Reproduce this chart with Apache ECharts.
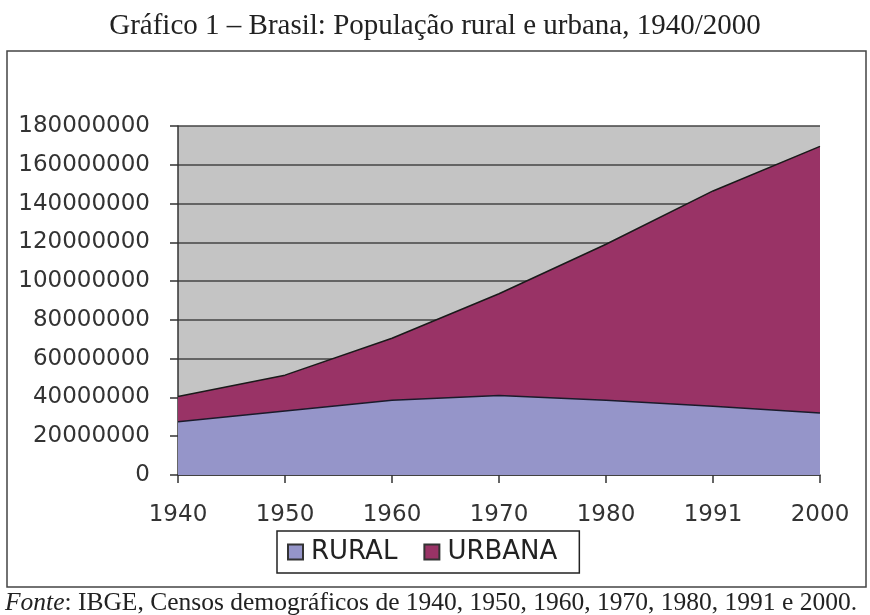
<!DOCTYPE html>
<html>
<head>
<meta charset="utf-8">
<script src="https://cdn.jsdelivr.net/npm/echarts@6/dist/echarts.min.js"></script>
<style>
  html, body { margin: 0; padding: 0; background: #fff; }
  #chart { width: 870px; height: 615px; }
</style>
</head>
<body>
<div id="chart"></div>
<script>
// Census years (category axis, evenly spaced as in the original)
const years = ['1940', '1950', '1960', '1970', '1980', '1991', '2000'];
// Population
const rural = [27500000, 33000000, 38500000, 41000000, 38500000, 35500000, 32000000];
const urbana = [13000000, 18500000, 32000000, 52500000, 80500000, 111000000, 137500000];
const yTicks = [0, 20000000, 40000000, 60000000, 80000000, 100000000, 120000000, 140000000, 160000000, 180000000];

const chart = echarts.init(document.getElementById('chart'));

const serif = '"Liberation Serif", "DejaVu Serif", serif';
const sans = '"DejaVu Sans", "Liberation Sans", sans-serif';

const option = {
  animation: false,
  backgroundColor: '#fff',
  title: {
    text: 'Gráfico 1 – Brasil: População rural e urbana, 1940/2000',
    left: 'center',
    top: 7,
    textStyle: { fontFamily: serif, fontSize: 29, fontWeight: 'normal', color: '#222' }
  },
  graphic: [
    {
      type: 'rect',
      shape: { x: 7, y: 51, width: 859, height: 536 },
      style: { fill: 'none', stroke: '#444', lineWidth: 1.5 },
      z: -1
    },
    {
      type: 'text',
      left: 5,
      top: 590,
      style: {
        text: '{i|Fonte}: IBGE, Censos demográficos de 1940, 1950, 1960, 1970, 1980, 1991 e 2000.',
        fontFamily: serif,
        fontSize: 25.5,
        fill: '#222',
        rich: {
          i: { fontFamily: serif, fontSize: 25.5, fontStyle: 'italic', fill: '#222' }
        }
      }
    }
  ],
  legend: {
    data: ['RURAL', 'URBANA'],
    left: 277,
    top: 531,
    padding: [8, 22, 8, 10],
    itemGap: 26,
    itemWidth: 15,
    itemHeight: 15,
    icon: 'rect',
    borderColor: '#222',
    borderWidth: 1.5,
    textStyle: { fontFamily: sans, fontSize: 26, color: '#222', padding: [0, 0, 0, 3] }
  },
  grid: {
    left: 178,
    right: 50,
    top: 126,
    bottom: 140,
    show: true,
    backgroundColor: '#c4c4c4',
    borderWidth: 0
  },
  xAxis: {
    type: 'category',
    data: years,
    boundaryGap: false,
    axisLine: { lineStyle: { color: '#333', width: 1.5 } },
    axisTick: { show: true, length: 8, alignWithLabel: true, lineStyle: { color: '#333', width: 1.5 } },
    axisLabel: { fontFamily: sans, fontSize: 23, color: '#333', margin: 29 },
    splitLine: { show: false }
  },
  yAxis: {
    type: 'value',
    min: yTicks[0],
    max: yTicks[yTicks.length - 1],
    interval: yTicks[1] - yTicks[0],
    axisLine: { show: true, lineStyle: { color: '#333', width: 1.5 } },
    axisTick: { show: true, length: 8, lineStyle: { color: '#333', width: 1.5 } },
    axisLabel: {
      fontFamily: sans, fontSize: 23, color: '#333', margin: 28,
      formatter: (v) => String(v)
    },
    splitLine: { show: true, lineStyle: { color: '#444', width: 1.5 } }
  },
  series: [
    {
      name: 'RURAL',
      type: 'line',
      stack: 'pop',
      data: rural,
      showSymbol: false,
      lineStyle: { color: '#1a1a2a', width: 1.5 },
      areaStyle: { color: '#9595c9', opacity: 1 },
      itemStyle: { color: '#9595c9', borderColor: '#333', borderWidth: 1.5 },
      z: 3
    },
    {
      name: 'URBANA',
      type: 'line',
      stack: 'pop',
      data: urbana,
      showSymbol: false,
      lineStyle: { color: '#1a1a1a', width: 1.5 },
      areaStyle: { color: '#993366', opacity: 1 },
      itemStyle: { color: '#993366', borderColor: '#333', borderWidth: 1.5 },
      z: 2
    }
  ]
};

chart.setOption(option);
</script>
</body>
</html>
